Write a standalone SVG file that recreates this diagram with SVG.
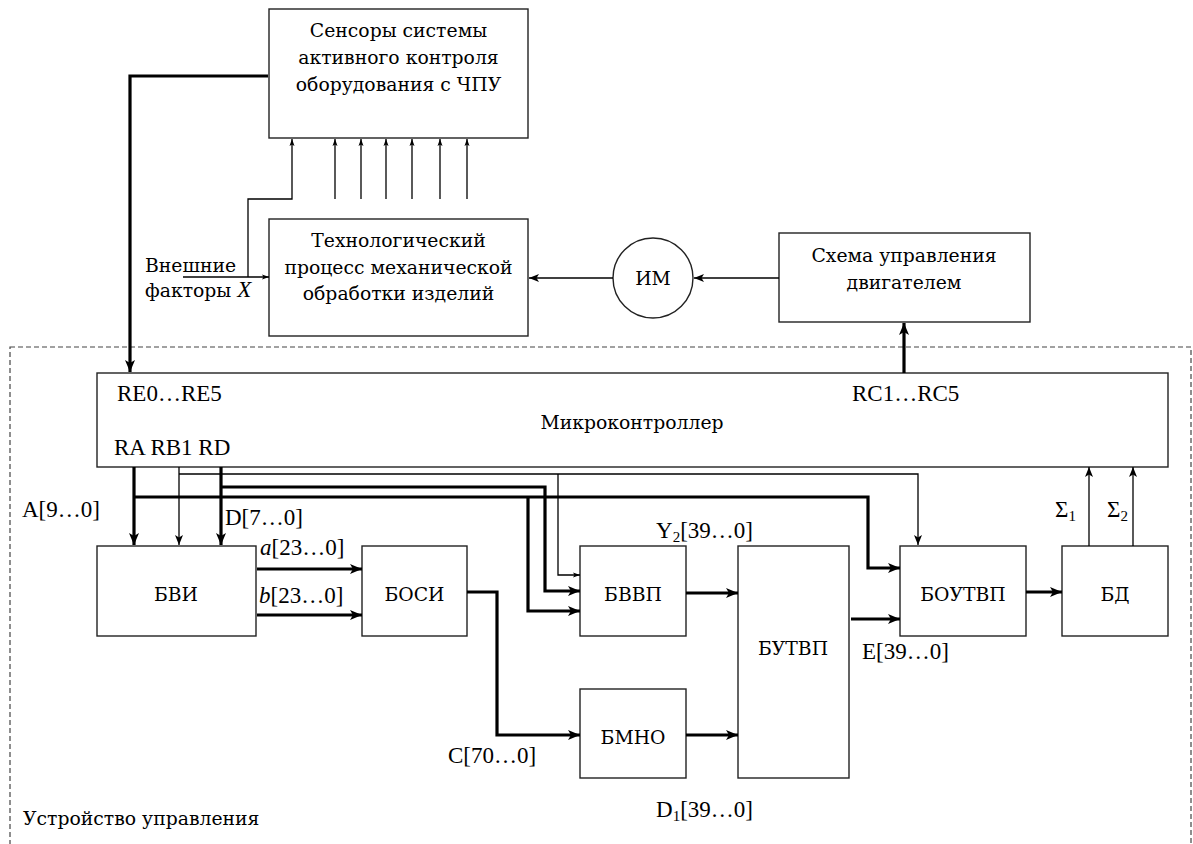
<svg xmlns="http://www.w3.org/2000/svg" width="1193" height="844" viewBox="0 0 1193 844">
<style>
text{font-family:'Liberation Serif','DejaVu Serif',serif;font-size:23px;fill:#000}
.cy{font-family:'DejaVu Serif','Liberation Serif',serif;font-size:18.8px}
.c{text-anchor:middle}
.box{fill:#fff;stroke:#222;stroke-width:1.4}
.thin{fill:none;stroke:#000;stroke-width:1.3}
.thick{fill:none;stroke:#000;stroke-width:3.2}
.dash{fill:none;stroke:#444;stroke-width:1.2;stroke-dasharray:5,3}
.sub{font-size:15px}
</style>
<defs>
<marker id="aT" markerUnits="userSpaceOnUse" markerWidth="14" markerHeight="12" refX="12" refY="6" orient="auto">
<path d="M0,1 L12,6 L0,11 L3,6 z" fill="#000"/>
</marker>
<marker id="aM" markerUnits="userSpaceOnUse" markerWidth="12" markerHeight="10" refX="10" refY="5" orient="auto">
<path d="M0,1 L10,5 L0,9 L2.5,5 z" fill="#000"/>
</marker>
<marker id="aS" markerUnits="userSpaceOnUse" markerWidth="8" markerHeight="6" refX="7" refY="3" orient="auto">
<path d="M0,0.5 L7,3 L0,5.5 L1.5,3 z" fill="#000"/>
</marker>
</defs>

<rect class="dash" x="10" y="347" width="1181" height="520"/>
<text class="cy" x="23" y="825">Устройство управления</text>

<g id="sensors">
<rect class="box" x="269" y="9" width="259" height="129"/>
<text class="c cy" x="398.5" y="37">Сенсоры системы</text>
<text class="c cy" x="398.5" y="64">активного контроля</text>
<text class="c cy" x="398.5" y="91">оборудования с ЧПУ</text>
</g>

<g id="process">
<rect class="box" x="269" y="219" width="259" height="117"/>
<text class="c cy" x="398.5" y="247">Технологический</text>
<text class="c cy" x="398.5" y="274">процесс механической</text>
<text class="c cy" x="398.5" y="300">обработки изделий</text>
</g>

<g id="im">
<circle cx="653" cy="278" r="40" fill="#fff" stroke="#222" stroke-width="1.4"/>
<text class="c cy" x="653" y="285">ИМ</text>
</g>

<g id="motor">
<rect class="box" x="779" y="233" width="251" height="89"/>
<text class="c cy" x="904" y="262">Схема управления</text>
<text class="c cy" x="904" y="289">двигателем</text>
</g>

<g id="mcu">
<rect class="box" x="97" y="373" width="1071" height="94"/>
<text x="117" y="401">RE0…RE5</text>
<text x="852" y="401">RC1…RC5</text>
<text class="c cy" x="632" y="429">Микроконтроллер</text>
<text x="114" y="455">RA RB1 RD</text>
</g>

<g id="bvi">
<rect class="box" x="97" y="546" width="159" height="90"/>
<text class="c cy" x="176" y="601">БВИ</text>
</g>

<g id="bosi">
<rect class="box" x="362" y="546" width="105" height="90"/>
<text class="c cy" x="414.5" y="601">БОСИ</text>
</g>

<g id="bvvp">
<rect class="box" x="580" y="546" width="106" height="90"/>
<text class="c cy" x="633" y="601">БВВП</text>
</g>

<g id="bmno">
<rect class="box" x="580" y="689" width="106" height="89"/>
<text class="c cy" x="633" y="744">БМНО</text>
</g>

<g id="butvp">
<rect class="box" x="738" y="546" width="111" height="232"/>
<text class="c cy" x="793" y="655">БУТВП</text>
</g>

<g id="boutvp">
<rect class="box" x="900" y="546" width="126" height="90"/>
<text class="c cy" x="963" y="601">БОУТВП</text>
</g>

<g id="bd">
<rect class="box" x="1062" y="546" width="106" height="90"/>
<text class="c cy" x="1115" y="601">БД</text>
</g>

<g id="connectors">
<path class="thick" d="M268,76 H130 V372" marker-end="url(#aT)"/>
<path class="thin" d="M335,199 V139" marker-end="url(#aS)"/>
<path class="thin" d="M361,199 V139" marker-end="url(#aS)"/>
<path class="thin" d="M386,199 V139" marker-end="url(#aS)"/>
<path class="thin" d="M412,199 V139" marker-end="url(#aS)"/>
<path class="thin" d="M440,199 V139" marker-end="url(#aS)"/>
<path class="thin" d="M467,199 V139" marker-end="url(#aS)"/>
<path class="thin" d="M248,277 V199 H292 V139" marker-end="url(#aS)"/>
<path class="thin" d="M183,277 H269" marker-end="url(#aS)"/>
<path class="thin" d="M779,278 H694" marker-end="url(#aM)"/>
<path class="thin" d="M613,278 H529" marker-end="url(#aM)"/>
<path class="thick" d="M904,373 V323" marker-end="url(#aT)"/>

<path class="thick" d="M134,467 V545" marker-end="url(#aT)"/>
<path class="thin" d="M179,467 V545" marker-end="url(#aM)"/>
<path class="thick" d="M221,467 V545" marker-end="url(#aT)"/>
<path class="thin" d="M179,474 H918 V545" marker-end="url(#aM)"/>
<path class="thin" d="M558,474 V575 H580" marker-end="url(#aS)"/>
<path class="thick" d="M221,487 H545 V591 H580" marker-end="url(#aT)"/>
<path class="thick" d="M134,497 H868 V568 H900" marker-end="url(#aT)"/>
<path class="thick" d="M528,497 V611 H580" marker-end="url(#aT)"/>

<path class="thick" d="M257,569 H362" marker-end="url(#aT)"/>
<path class="thick" d="M257,615 H362" marker-end="url(#aT)"/>
<path class="thick" d="M467,592 H497 V735 H580" marker-end="url(#aT)"/>
<path class="thick" d="M686,593 H738" marker-end="url(#aT)"/>
<path class="thick" d="M686,735 H738" marker-end="url(#aT)"/>
<path class="thick" d="M851,619 H900" marker-end="url(#aT)"/>
<path class="thick" d="M1026,592 H1062" marker-end="url(#aT)"/>
<path class="thin" d="M1089,546 V467" marker-end="url(#aM)"/>
<path class="thin" d="M1133,546 V467" marker-end="url(#aM)"/>
</g>

<g id="labels">
<text class="cy" x="145" y="272">Внешние</text>
<text class="cy" x="145" y="297">факторы <tspan font-family="Liberation Serif, serif" font-size="23" font-style="italic">X</tspan></text>
<text x="22" y="517">A[9…0]</text>
<text x="225" y="525">D[7…0]</text>
<text x="260" y="555"><tspan font-style="italic">a</tspan>[23…0]</text>
<text x="259" y="603"><tspan font-style="italic">b</tspan>[23…0]</text>
<text x="656" y="538">Y<tspan class="sub" dy="4">2</tspan><tspan dy="-4">[39…0]</tspan></text>
<text x="862" y="659">E[39…0]</text>
<text x="448" y="763">C[70…0]</text>
<text x="656" y="817">D<tspan class="sub" dy="4">1</tspan><tspan dy="-4">[39…0]</tspan></text>
<text x="1055" y="517">Σ<tspan class="sub" dy="4">1</tspan></text>
<text x="1107" y="517">Σ<tspan class="sub" dy="4">2</tspan></text>
</g>
</svg>
